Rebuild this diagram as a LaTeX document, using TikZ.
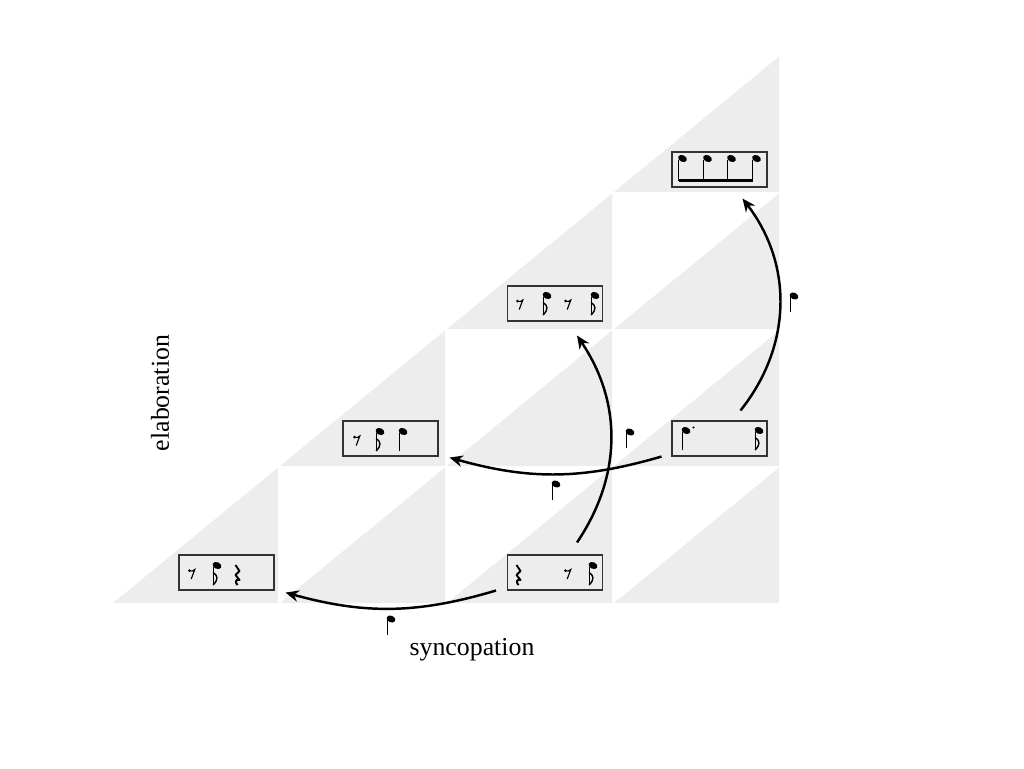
\documentclass[tikz,border=0pt]{standalone}
\usepackage{fontspec}
\setmainfont{Liberation Serif}
\usetikzlibrary{arrows.meta}
\tikzset{
  cellfill/.style={fill=black!7},
  musbox/.style={draw=black!80, line width=0.6pt, minimum width=1.9cm, minimum height=0.7cm, inner sep=0pt},
  arr/.style={-{Stealth[length=7.5pt,width=6.5pt]}, line width=1.4pt},
  lbl/.style={font=\fontsize{14.7}{17}\selectfont},
  nhead/.pic={\fill[rotate=-25] (0,0) ellipse[x radius=4.6,y radius=3.3];},
  n8/.pic={\pic{nhead}; \draw[line width=0.5pt] (-3.9,1) -- (-3.9,19);},
  n16/.pic={\pic{nhead}; \draw[line width=0.5pt] (-3.9,1) -- (-3.9,19);
            \draw[line width=0.8pt] (-3.9,7) .. controls (1,10) and (1.5,14) .. (-3.9,19.5);},
  ndot/.pic={\fill (7.5,-3) circle (1.2);},
  r8/.pic={\fill (-2.5,-2.5) circle (1.5);
           \draw[line width=0.65pt] (-2.5,-2.2) .. controls (-0.5,-1.5) and (1.5,-2) .. (2.8,-3.5) -- (-0.8,6);},
  r4/.pic={\draw[line width=1.1pt, line join=round] (-1.5,-10) -- (2.5,-4) -- (-1.5,0) -- (2.5,5)
            .. controls (-1.5,3) and (-2,8) .. (0.5,10);},
  beam4/.pic={
    \foreach \hx in {-37,-12,12,37} {
      \pic at (\hx,-11) {nhead};
      \draw[line width=0.5pt] (\hx-3.9,-10) -- (\hx-3.9,11);
    }
    \fill (-40.9,9.5) rectangle (33.1,12.5);}
}
\begin{document}
\begin{tikzpicture}[x=0.02cm,y=-0.02cm]
\useasboundingbox (0,0) rectangle (1024,768);
% grid of half-shaded cells
\foreach \j in {0,...,3} {
  \foreach \i in {\j,...,3} {
    \pgfmathsetmacro{\xl}{112+167*\i}
    \pgfmathsetmacro{\yb}{603-137*\j}
    \fill[cellfill] (\xl+1,\yb) -- (\xl+166,\yb) -- (\xl+166,\yb-135.5) -- cycle;
  }
}
% boxes
\node[musbox] (b00) at (226.5,572.5) {};
\node[musbox] (b20) at (555,572.5) {};
\node[musbox] (b11) at (390.5,438.5) {};
\node[musbox] (b31) at (719.5,438.5) {};
\node[musbox] (b22) at (555,303.5) {};
\node[musbox] (b33) at (719.5,169.5) {};
% box contents
\pic at ([shift={(-34.5,0.5)}]b00.center) {r8};
\pic at ([shift={(-9.5,-7)}]b00.center) {n16};
\pic at ([shift={(10.5,2.5)}]b00.center) {r4};

\pic at ([shift={(-37,2.5)}]b20.center) {r4};
\pic at ([shift={(13,0.5)}]b20.center) {r8};
\pic at ([shift={(38,-7)}]b20.center) {n16};

\pic at ([shift={(-33.5,1)}]b11.center) {r8};
\pic at ([shift={(-10.5,-7)}]b11.center) {n16};
\pic at ([shift={(12.5,-7)}]b11.center) {n8};

\pic at ([shift={(-33.5,-8)}]b31.center) {n8};
\pic at ([shift={(-33.5,-8)}]b31.center) {ndot};
\pic at ([shift={(39.5,-8)}]b31.center) {n16};

\pic at ([shift={(-35,0)}]b22.center) {r8};
\pic at ([shift={(-8,-8)}]b22.center) {n16};
\pic at ([shift={(13,0)}]b22.center) {r8};
\pic at ([shift={(40,-8)}]b22.center) {n16};

\pic at (b33.center) {beam4};
% arrows
\draw[arr] ([shift={(-11,0)}]b20.south west) to[bend left=16] ([shift={(11,2)}]b00.south east);
\draw[arr] ([shift={(-10,0)}]b31.south west) to[bend left=16] ([shift={(11,1)}]b11.south east);
\draw[arr] ([shift={(22,-12)}]b20.north) to[bend right=34] ([shift={(22,14)}]b22.south);
\draw[arr] ([shift={(21,-10)}]b31.north) to[bend right=38] ([shift={(23,11)}]b33.south);
% arrow labels (eighth notes)
\pic[scale=0.85] at (391,619) {n8};
\pic[scale=0.85] at (556,484) {n8};
\pic[scale=0.85] at (630,432) {n8};
\pic[scale=0.85] at (794,296) {n8};
% axis labels
\node[lbl] (syn) at (472,650) {syncopation};
\node[lbl, rotate=90] (ela) at (160,393) {elaboration};
\end{tikzpicture}
\end{document}
